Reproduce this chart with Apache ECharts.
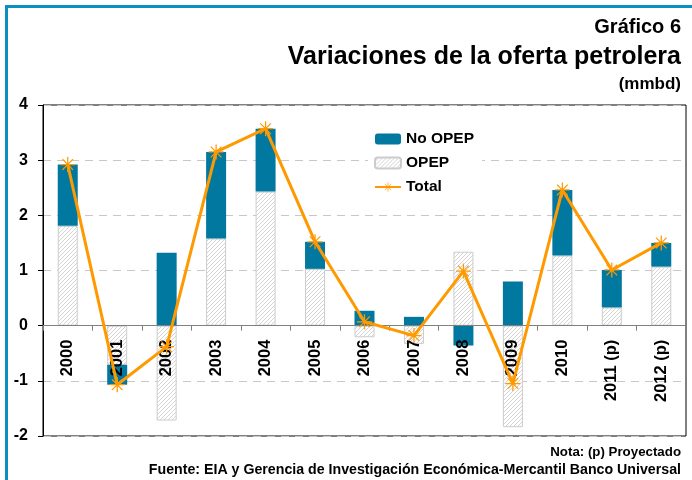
<!DOCTYPE html>
<html>
<head>
<meta charset="utf-8">
<script src="https://cdn.jsdelivr.net/npm/echarts@6/dist/echarts.min.js"></script>
<style>
    html, body { margin: 0; padding: 0; background: #fff; }
    #chart { width: 692px; height: 480px; }
</style>
</head>
<body>
<div id="chart"></div>
<script>
    // datos (mmbd)
    var years = ['2000', '2001', '2002', '2003', '2004', '2005', '2006', '2007', '2008', '2009', '2010', '2011 (p)', '2012 (p)'];
    var opep = [1.81, -0.71, -1.72, 1.58, 2.43, 1.03, -0.21, -0.33, 1.34, -1.84, 1.27, 0.33, 1.07];
    var noOpep = [1.11, -0.36, 1.32, 1.57, 1.14, 0.49, 0.27, 0.16, -0.36, 0.80, 1.19, 0.68, 0.43];
    var total = [2.92, -1.07, -0.38, 3.15, 3.57, 1.52, 0.07, -0.18, 0.99, -1.05, 2.46, 1.01, 1.50];

    var arial = '"Liberation Sans", Arial, sans-serif';

    // grid: top 105, bottom 436 -> el cero queda a 4/6 de la altura
    var gridTop = 105, gridBottom = 44, chartH = 480;
    var plotH = chartH - gridTop - gridBottom;
    var zeroOffset = -(plotH * 2 / 6);

    // trama rayada para OPEP
    function hatch() {
        var c = document.createElement('canvas');
        c.width = 4; c.height = 4;
        var g = c.getContext('2d');
        g.fillStyle = '#ffffff';
        g.fillRect(0, 0, 4, 4);
        g.strokeStyle = '#d4d4d4';
        g.lineWidth = 1;
        g.beginPath();
        g.moveTo(0, 4); g.lineTo(4, 0);
        g.moveTo(-1, 1); g.lineTo(1, -1);
        g.moveTo(3, 5); g.lineTo(5, 3);
        g.stroke();
        return c;
    }

    var star = 'path://M-0.5,-6L0.5,-6L0.5,6L-0.5,6Z' +
        'M-4.6,-4L-3.9,-4.6L4.6,4L3.9,4.6Z' +
        'M3.9,-4.6L4.6,-4L-3.9,4.6L-4.6,4Z' +
        'M-6,-0.5L6,-0.5L6,0.5L-6,0.5Z';

    var chart = echarts.init(document.getElementById('chart'));
    var option = {
        backgroundColor: '#fff',
        animation: false,
        title: [
            { text: 'Gráfico 6', right: 6, top: 12, textStyle: { fontFamily: arial, fontSize: 20, fontWeight: 'bold', color: '#000' } },
            { text: 'Variaciones de la oferta petrolera', right: 6, top: 40, textStyle: { fontFamily: arial, fontSize: 25, fontWeight: 'bold', color: '#000' } },
            { text: '(mmbd)', right: 6, top: 71, textStyle: { fontFamily: arial, fontSize: 17, fontWeight: 'bold', color: '#000' } },
            { text: 'Nota: (p) Proyectado', right: 6, top: 441, textStyle: { fontFamily: arial, fontSize: 13.3, fontWeight: 'bold', color: '#000' } },
            { text: 'Fuente: EIA y Gerencia de Investigación Económica-Mercantil Banco Universal', right: 6, top: 458, textStyle: { fontFamily: arial, fontSize: 14.2, fontWeight: 'bold', color: '#000' } }
        ],
        graphic: [
            { type: 'rect', shape: { x: 5, y: 5, width: 700, height: 3 }, style: { fill: '#0a8fc2' } },
            { type: 'rect', shape: { x: 5, y: 5, width: 3, height: 480 }, style: { fill: '#0a8fc2' } }
        ],
        legend: {
            data: ['No OPEP', 'OPEP', 'Total'],
            orient: 'vertical',
            left: 368,
            top: 127,
            itemWidth: 26,
            itemHeight: 11,
            itemGap: 8,
            padding: [4, 8, 4, 6],
            backgroundColor: '#fff',
            textStyle: { fontFamily: arial, fontSize: 15.5, fontWeight: 'bold', color: '#000' }
        },
        grid: { left: 43, right: 6, top: gridTop, bottom: gridBottom, outerBoundsMode: 'none', containLabel: false, show: true, borderColor: '#000', borderWidth: 1, backgroundColor: 'transparent' },
        xAxis: {
            type: 'category',
            data: years,
            offset: zeroOffset,
            axisLine: { onZero: false, lineStyle: { color: '#808080', width: 1 } },
            axisTick: { show: true, length: 5, lineStyle: { color: '#808080' } },
            axisLabel: { rotate: 90, margin: 14, fontFamily: arial, fontSize: 16.5, fontWeight: 'bold', color: '#000' },
            z: 5
        },
        yAxis: {
            type: 'value',
            min: -2, max: 4, interval: 1,
            axisLine: { show: true, lineStyle: { color: '#000' } },
            axisTick: { show: true, length: 5, lineStyle: { color: '#000' } },
            axisLabel: { margin: 15, fontFamily: arial, fontSize: 16, fontWeight: 'bold', color: '#000' },
            splitLine: { lineStyle: { color: '#c8c8c8', type: [8, 6] } }
        },
        series: [
            {
                name: 'OPEP', type: 'bar', stack: 'oferta', barWidth: 20, data: opep,
                itemStyle: { color: { image: hatch(), repeat: 'repeat' }, borderColor: '#cccccc', borderWidth: 1 }
            },
            {
                name: 'No OPEP', type: 'bar', stack: 'oferta', barWidth: 20, data: noOpep,
                itemStyle: { color: '#00789f' }
            },
            {
                name: 'Total', type: 'line', data: total, z: 10,
                symbol: star, symbolSize: 15,
                lineStyle: { color: '#ff9900', width: 3 },
                itemStyle: { color: '#ff9900' }
            }
        ]
    };
    chart.setOption(option);
    window.addEventListener('resize', chart.resize);
</script>
</body>
</html>
